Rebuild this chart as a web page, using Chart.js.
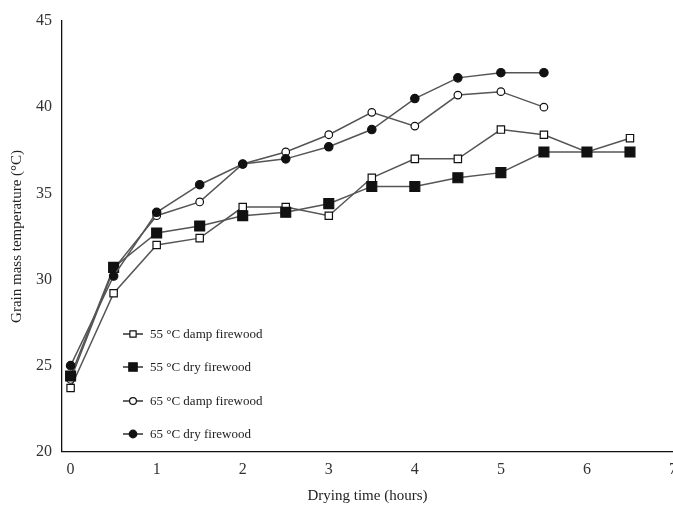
<!DOCTYPE html>
<html>
<head>
<meta charset="utf-8">
<title>Grain mass temperature</title>
<script src="https://cdn.jsdelivr.net/npm/chart.js@4/dist/chart.umd.min.js"></script>
<style>
    html, body { margin: 0; padding: 0; background: #fff; overflow: hidden; }
    #wrap { width: 690px; height: 505px; }
</style>
</head>
<body>
<div id="wrap"><canvas id="chart_temp"></canvas></div>
<script>
    // drying time in hours
    const hours = [0, 0.5, 1, 1.5, 2, 2.5, 3, 3.5, 4, 4.5, 5, 5.5, 6, 6.5];
    const damp55 = [23.7, 29.2, 32.0, 32.4, 34.2, 34.2, 33.7, 35.9, 37.0, 37.0, 38.7, 38.4, 37.4, 38.2];
    const dry55 = [24.4, 30.7, 32.7, 33.1, 33.7, 33.9, 34.4, 35.4, 35.4, 35.9, 36.2, 37.4, 37.4, 37.4];
    const damp65 = [24.2, 30.6, 33.7, 34.5, 36.7, 37.4, 38.4, 39.7, 38.9, 40.7, 40.9, 40.0];
    const dry65 = [25.0, 30.2, 33.9, 35.5, 36.7, 37.0, 37.7, 38.7, 40.5, 41.7, 42.0, 42.0];
    const seriesNames = ["55 °C damp firewood", "55 °C dry firewood", "65 °C damp firewood", "65 °C dry firewood"];
    const yTicks = [20, 25, 30, 35, 40, 45];
    const xTicks = [0, 1, 2, 3, 4, 5, 6, 7];

    const serif = "'Liberation Serif', 'DejaVu Serif', serif";
    const lineColor = '#555555';
    const markColor = '#111111';

    function pts(values) {
        return values.map((v, i) => ({ x: hours[i], y: v }));
    }

    const styles = [
        { pointStyle: 'rect', radius: 5.2, fill: '#ffffff', order: 4 },
        { pointStyle: 'rect', radius: 7, fill: markColor, order: 2 },
        { pointStyle: 'circle', radius: 3.8, fill: '#ffffff', order: 3 },
        { pointStyle: 'circle', radius: 4.2, fill: markColor, order: 1 }
    ];
    const allValues = [damp55, dry55, damp65, dry65];

    const datasets = allValues.map((vals, i) => ({
        label: seriesNames[i],
        data: pts(vals),
        order: styles[i].order,
        borderColor: lineColor,
        borderWidth: 1.5,
        pointStyle: styles[i].pointStyle,
        pointRadius: styles[i].radius,
        pointBackgroundColor: styles[i].fill,
        pointBorderColor: markColor,
        pointBorderWidth: 1.2,
        tension: 0
    }));

    // legend drawn inside the plot, like the original figure
    const innerLegend = {
        id: 'innerLegend',
        afterDraw(chart) {
            const ctx = chart.ctx;
            const x0 = 123, x1 = 143, tx = 150;
            const rows = [334, 367, 401, 434];
            ctx.save();
            chart.data.datasets.forEach((ds, i) => {
                const y = rows[i];
                const cx = (x0 + x1) / 2;
                ctx.strokeStyle = markColor;
                ctx.lineWidth = 1.3;
                ctx.beginPath();
                ctx.moveTo(x0, y);
                ctx.lineTo(x1, y);
                ctx.stroke();
                const r = styles[i].pointStyle === 'rect' ? styles[i].radius * 0.85 : styles[i].radius * 0.9;
                ctx.fillStyle = styles[i].fill;
                ctx.lineWidth = 1.2;
                ctx.beginPath();
                if (styles[i].pointStyle === 'rect') {
                    const s = r * Math.SQRT1_2;
                    ctx.rect(cx - s, y - s, 2 * s, 2 * s);
                } else {
                    ctx.arc(cx, y, r, 0, Math.PI * 2);
                }
                ctx.fill();
                ctx.stroke();
                ctx.fillStyle = '#222222';
                ctx.font = "13px " + serif;
                ctx.textBaseline = 'middle';
                ctx.textAlign = 'left';
                ctx.fillText(ds.label, tx, y + 1);
            });
            ctx.restore();
        }
    };

    new Chart(document.getElementById('chart_temp'), {
        type: 'line',
        data: { datasets: datasets },
        options: {
            responsive: true,
            maintainAspectRatio: false,
            animation: false,
            layout: { padding: { left: 4, right: 17, top: 21, bottom: 0 } },
            plugins: {
                legend: { display: false },
                tooltip: { enabled: false }
            },
            scales: {
                x: {
                    type: 'linear',
                    min: -0.1,
                    max: 7,
                    afterBuildTicks: (axis) => { axis.ticks = xTicks.map(v => ({ value: v })); },
                    grid: { display: false, drawTicks: false },
                    border: { display: true, color: '#111111', width: 1.3 },
                    ticks: {
                        padding: 8,
                        color: '#333333',
                        font: { family: serif, size: 16 }
                    },
                    title: {
                        display: true,
                        text: 'Drying time (hours)',
                        color: '#222222',
                        font: { family: serif, size: 15 },
                        padding: { top: 0, bottom: 0 }
                    }
                },
                y: {
                    min: 20,
                    max: 45,
                    afterBuildTicks: (axis) => { axis.ticks = yTicks.map(v => ({ value: v })); },
                    grid: { display: false, drawTicks: false },
                    border: { display: true, color: '#111111', width: 1.3 },
                    ticks: {
                        padding: 10,
                        color: '#333333',
                        font: { family: serif, size: 16 }
                    },
                    title: {
                        display: true,
                        text: 'Grain mass temperature (°C)',
                        color: '#222222',
                        font: { family: serif, size: 15 },
                        padding: { top: 4, bottom: 0 }
                    }
                }
            }
        },
        plugins: [innerLegend]
    });
</script>
</body>
</html>
